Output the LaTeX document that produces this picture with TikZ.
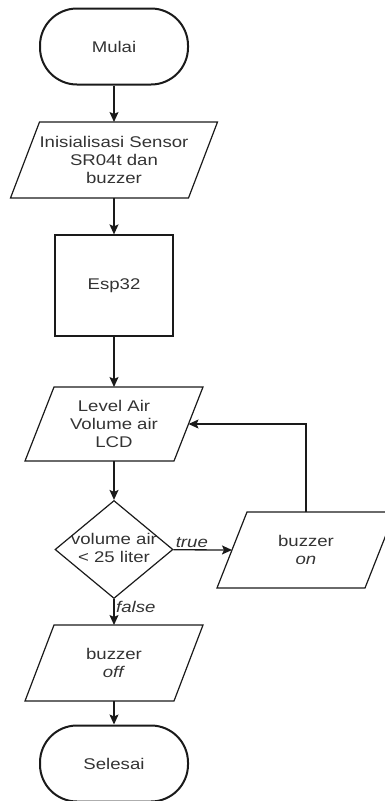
\documentclass[tikz,border=0pt]{standalone}
\usepackage{fontspec}
\setmainfont{Liberation Sans}[FakeStretch=1.2]
\usetikzlibrary{shapes.geometric,arrows.meta}
\definecolor{txt}{HTML}{333333}
\definecolor{ln}{HTML}{1A1A1A}
\newcommand\paraout[2]{\draw[ioline] ([xshift=#2]#1.north west) -- (#1.north east) -- ([xshift=-#2]#1.south east) -- (#1.south west) -- cycle;}
\begin{document}
\begin{tikzpicture}[x=1pt,y=-1pt,
  font=\fontsize{15.5}{18.3}\selectfont,
  every node/.style={text=txt},
  term/.style={draw=ln, line width=2pt, rounded corners=37pt, minimum width=148pt, minimum height=76pt},
  proc/.style={draw=ln, line width=1.2pt, minimum width=118pt, minimum height=101pt},
  iobox/.style={rectangle, align=center, inner sep=1pt, outer sep=0pt},
  ioline/.style={draw=ln, line width=1.2pt},
  dec/.style={diamond, draw=ln, line width=1.2pt, minimum width=118pt, minimum height=98pt, inner sep=0pt},
  arr/.style={-{Stealth[length=10pt,width=9pt,inset=2pt]}, line width=1.3pt, draw=ln},
  lbl/.style={font=\fontsize{15.5}{18.3}\selectfont\itshape, inner sep=2pt}]
\useasboundingbox (0,0) rectangle (384,801);
\node[term] (mulai) at (114,46.5) {Mulai};
\node[iobox, minimum width=207pt, minimum height=76pt] (init) at (114,160) {Inisialisasi Sensor\\SR04t dan\\buzzer};
\paraout{init}{29pt}
\node[proc] (esp) at (114,285.5) {Esp32};
\node[iobox, minimum width=178pt, minimum height=74pt] (lcd) at (114,424) {Level Air\\Volume air\\LCD};
\paraout{lcd}{29pt}
\node[dec] (dec) at (114,549.5) {\makebox[0pt]{\begin{tabular}{@{}c@{}}volume air\\< 25 liter\end{tabular}}};
\node[iobox, minimum width=178pt, minimum height=76pt] (on) at (306,550) {buzzer\\\textit{on}};
\paraout{on}{30pt}
\node[iobox, minimum width=178pt, minimum height=76pt] (off) at (114,663) {buzzer\\\textit{off}};
\paraout{off}{29pt}
\node[term] (selesai) at (114,763.5) {Selesai};
\draw[arr] (mulai) -- (init);
\draw[arr] (init) -- (esp);
\draw[arr] (esp) -- (lcd);
\draw[arr] (lcd) -- (dec);
\draw[arr] (dec) -- ([xshift=15pt]on.west);
\draw[arr] (dec) -- (off);
\draw[arr] (off) -- (selesai);
\draw[arr] (on.north) |- ([xshift=-14.5pt]lcd.east);
\node[lbl, anchor=south west] (tl) at (dec.east) {true};
\node[lbl, anchor=north west] (fl) at (dec.south) {false};
\end{tikzpicture}
\end{document}
